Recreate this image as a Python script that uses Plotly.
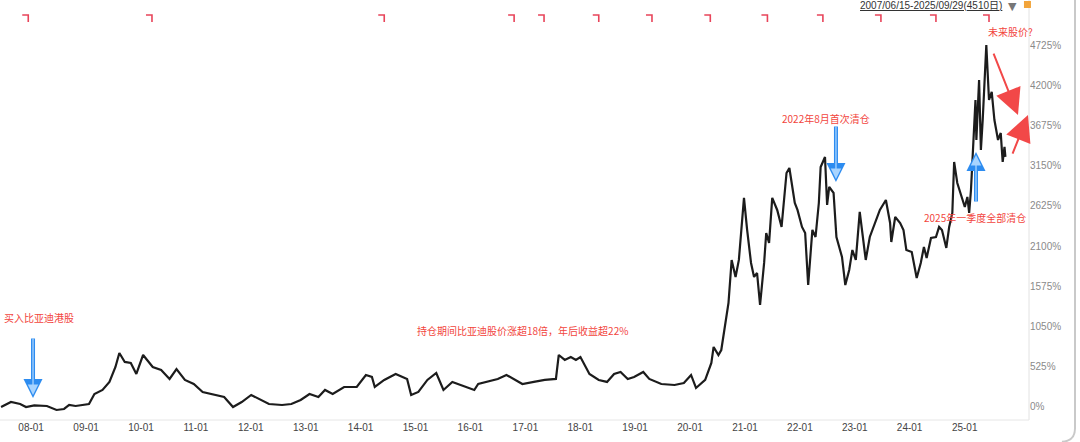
import plotly.graph_objects as go

# ---------------- data ----------------
dates = [
    "2007-06-15", "2007-08-20", "2007-10-20", "2007-11-28", "2008-01-22", "2008-04-15",
    "2008-06-18", "2008-08-07", "2008-09-10", "2008-10-23", "2009-01-20", "2009-02-25",
    "2009-04-20", "2009-06-05", "2009-07-15", "2009-08-10", "2009-09-15", "2009-10-25",
    "2009-12-01", "2010-01-15", "2010-03-20", "2010-05-15", "2010-07-10", "2010-08-25",
    "2010-10-20", "2010-12-18", "2011-02-15", "2011-05-10", "2011-07-08", "2011-09-05",
    "2011-11-02", "2012-01-04", "2012-03-02", "2012-05-01", "2012-07-27", "2012-09-27",
    "2012-11-28", "2013-01-26", "2013-03-26", "2013-05-09", "2013-06-29", "2013-09-13",
    "2013-12-06", "2014-02-05", "2014-03-17", "2014-04-05", "2014-06-07", "2014-08-22",
    "2014-11-06", "2014-12-03", "2015-01-20", "2015-03-21", "2015-05-19", "2015-07-06",
    "2015-09-03", "2015-10-27", "2016-01-27", "2016-02-22", "2016-04-19", "2016-07-01",
    "2016-08-28", "2016-12-12", "2017-02-26", "2017-05-10", "2017-07-23", "2017-08-11",
    "2017-09-20", "2017-10-30", "2017-12-03", "2018-01-02", "2018-03-03", "2018-05-04",
    "2018-06-28", "2018-08-14", "2018-09-26", "2018-11-13", "2018-12-25", "2019-02-24",
    "2019-04-05", "2019-06-24", "2019-09-20", "2019-11-21", "2020-01-08", "2020-02-10",
    "2020-04-11", "2020-05-22", "2020-06-06", "2020-07-08", "2020-07-27", "2020-08-24",
    "2020-09-13", "2020-10-04", "2020-10-30", "2020-11-21", "2020-12-25", "2021-01-15",
    "2021-02-10", "2021-03-02", "2021-03-22", "2021-04-11", "2021-05-08", "2021-05-22",
    "2021-06-10", "2021-07-01", "2021-08-03", "2021-09-01", "2021-10-04", "2021-10-23",
    "2021-11-28", "2021-12-16", "2022-01-15", "2022-02-05", "2022-02-25", "2022-03-25",
    "2022-04-15", "2022-05-07", "2022-05-19", "2022-06-17", "2022-07-01", "2022-07-15",
    "2022-08-13", "2022-09-01", "2022-10-08", "2022-10-30", "2022-11-25", "2022-12-16",
    "2023-01-08", "2023-02-03", "2023-02-24", "2023-03-15", "2023-04-11", "2023-05-15",
    "2023-06-17", "2023-07-27", "2023-08-24", "2023-09-01", "2023-09-27", "2023-10-30",
    "2023-11-21", "2023-12-10", "2024-01-15", "2024-02-17", "2024-03-15", "2024-04-05",
    "2024-04-23", "2024-05-22", "2024-06-24", "2024-07-15", "2024-08-03", "2024-09-01",
    "2024-09-20", "2024-10-11", "2024-10-23", "2024-11-13", "2024-12-10", "2025-01-02",
    "2025-01-19", "2025-01-31", "2025-02-12", "2025-02-24", "2025-03-14", "2025-03-20",
    "2025-04-07", "2025-04-19", "2025-05-01", "2025-05-25", "2025-06-12", "2025-06-30",
    "2025-07-18", "2025-08-11", "2025-08-29", "2025-09-11", "2025-09-23", "2025-09-29",
]
returns_pct = [
    0, 65, 39, 0, 21, 13,
    -39, -26, 26, 13, 39, 170,
    222, 327, 522, 705, 588, 575,
    431, 679, 522, 483, 366, 496,
    353, 300, 196, 157, 131, 0,
    65, 157, 104, 39, 26, 39,
    91, 170, 131, 222, 170, 261,
    261, 418, 392, 261, 353, 431,
    366, 157, 196, 353, 444, 222,
    327, 287, 222, 300, 327, 366,
    418, 300, 327, 353, 366, 679,
    614, 653, 614, 653, 431, 353,
    327, 431, 457, 366, 392, 457,
    366, 300, 287, 313, 418, 248,
    353, 575, 784, 679, 744, 1097,
    1358, 1920, 1698, 1920, 2730, 2312,
    1881, 1698, 1750, 1332, 1881, 2272,
    2142, 2730, 2573, 2351, 3056, 3121,
    2664, 2573, 2351, 2272, 1593, 2312,
    2220, 2664, 3134, 3265, 2638, 2873,
    2795, 2220, 1959, 1593, 1789, 2050,
    1920, 2547, 2220, 1920, 2220, 2403,
    2573, 2703, 2403, 2155, 2481, 2403,
    2312, 2050, 2024, 1685, 1881, 2090,
    1946, 2207, 2220, 2351, 2312, 2077,
    2351, 2534, 3200, 2925, 2743, 2612,
    2743, 2534, 2834, 3330, 4009, 3487,
    4271, 3356, 3748, 4728, 4009, 4114,
    3748, 3487, 3578, 3200, 3396, 3265,
]
event_dates = [
    "2007-12-13", "2010-03-15", "2014-06-07", "2016-10-18", "2017-05-05", "2018-05-04",
    "2019-04-23", "2020-05-15", "2021-05-30", "2022-06-03", "2023-06-24", "2024-06-24",
    "2025-06-12",
]
x_tick_dates = [f"{y}-01-01" for y in range(2008, 2026)]
x_tick_labels = ["08-01", "09-01", "10-01", "11-01", "12-01", "13-01", "14-01", "15-01",
                 "16-01", "17-01", "18-01", "19-01", "20-01", "21-01", "22-01", "23-01",
                 "24-01", "25-01"]
y_ticks = [0, 525, 1050, 1575, 2100, 2625, 3150, 3675, 4200, 4725]
y_tick_labels = ["0%", "525%", "1050%", "1575%", "2100%", "2625%", "3150%", "3675%",
                 "4200%", "4725%"]
period_label = "2007/06/15-2025/09/29(4510日)"
notes = {
    "buy": "买入比亚迪港股",
    "hold": "持仓期间比亚迪股价涨超18倍，年后收益超22%",
    "first": "2022年8月首次清仓",
    "all": "2025年一季度全部清仓",
    "future": "未来股价?",
}

# ---------------- figure ----------------
RED = "#f2453d"
BLUE = "#2d8cf0"
BLUE_IN = "#a8d4ff"
CJK = "Noto Sans CJK SC"

fig = go.Figure()
fig.add_trace(go.Scatter(
    x=dates, y=returns_pct, mode="lines",
    line=dict(color="#1c1c1c", width=2.2),
    hoverinfo="skip", showlegend=False,
))

shapes = []
# event markers at the top
for d in event_dates:
    shapes.append(dict(
        type="path", xref="x", yref="paper", xsizemode="pixel", ysizemode="pixel",
        xanchor=d, yanchor=1, path="M-6,-15 L0,-15 L0,-22",
        line=dict(color="#e8445a", width=1.6),
    ))
# plot frame lines
shapes.append(dict(type="line", xref="paper", yref="paper", x0=1, x1=1, y0=0, y1=1,
                   line=dict(color="#e2e2e2", width=1)))
shapes.append(dict(type="line", xref="paper", yref="paper", x0=0, x1=1, y0=0, y1=0,
                   line=dict(color="#e6e6e6", width=1)))
# outer rounded panel edge
shapes.append(dict(type="path", xref="paper", yref="paper",
                   path="M 1.0447 1.0 L 1.0447 -0.02 Q 1.0447 -0.05 1.032 -0.052",
                   line=dict(color="#c9c9c9", width=2)))
# small orange icon
shapes.append(dict(type="rect", xref="paper", yref="paper",
                   x0=0.9951, x1=1.0019, y0=0.981, y1=0.9976,
                   fillcolor="#f2a43a", line=dict(width=0)))

ann = []
def txt(text, x, y, xanchor="center", color=RED, size=10):
    ann.append(dict(text=text, x=x, y=y, xref="paper", yref="paper", showarrow=False,
                    xanchor=xanchor, yanchor="middle",
                    font=dict(family=CJK, size=size, color=color)))

def arrow(x, y, ax, ay, color, width, size, head=2, standoff=0):
    ann.append(dict(text="", x=x, y=y, xref="paper", yref="paper", ax=ax, ay=ay,
                    showarrow=True, arrowhead=head, arrowsize=size, arrowwidth=width,
                    arrowcolor=color, standoff=standoff))

def blue_arrow(x, y, ax, ay):
    arrow(x, y, ax, ay, BLUE, 4.0, 0.95)
    arrow(x, y, ax, ay, BLUE_IN, 1.3, 1.6, standoff=3)

blue_arrow(0.0321, 0.0524, 0, -61)
blue_arrow(0.8124, 0.5667, 0, -57)
blue_arrow(0.9485, 0.638, 0, 51)
arrow(0.9893, 0.726, -25, -63, "#f24848", 2.0, 2.6)
arrow(0.999, 0.726, -16, 40, "#f24848", 2.0, 2.6)

txt(notes["buy"], 0.002, 0.243, xanchor="left")
txt(notes["hold"], 0.508, 0.212)
txt(notes["first"], 0.803, 0.719)
txt(notes["all"], 0.9475, 0.481)
txt(notes["future"], 0.982, 0.924)

ann.append(dict(text=period_label, x=0.905, y=1.0, xref="paper", yref="paper",
                showarrow=False, xanchor="center", yanchor="top", yshift=2,
                font=dict(family="Liberation Sans, " + CJK, size=10, color="#333333",
                          lineposition="under")))
ann.append(dict(text="▼", x=0.9835, y=1.0, xref="paper", yref="paper", showarrow=False,
                xanchor="center", yanchor="top", yshift=2,
                font=dict(family="DejaVu Sans", size=11, color="#777777")))

fig.update_layout(
    width=1080, height=442,
    margin=dict(l=0, r=51, t=0, b=22, autoexpand=False),
    paper_bgcolor="white", plot_bgcolor="white",
    shapes=shapes, annotations=ann,
    xaxis=dict(
        type="date", range=["2007-06-08", "2026-03-05"], automargin=False,
        tickvals=x_tick_dates, ticktext=x_tick_labels,
        showgrid=False, zeroline=False, showline=False,
        ticks="", tickfont=dict(family="Liberation Sans", size=10, color="#444444"),
    ),
    yaxis=dict(
        side="right", range=[-170, 5315], automargin=False,
        tickvals=y_ticks, ticktext=y_tick_labels,
        showgrid=False, zeroline=False, showline=False,
        ticks="", tickfont=dict(family="Liberation Sans", size=10, color="#8a8a8a"),
    ),
)

fig.write_html("out.html", config={"displayModeBar": False},
               post_script="document.body.style.margin='0';")
